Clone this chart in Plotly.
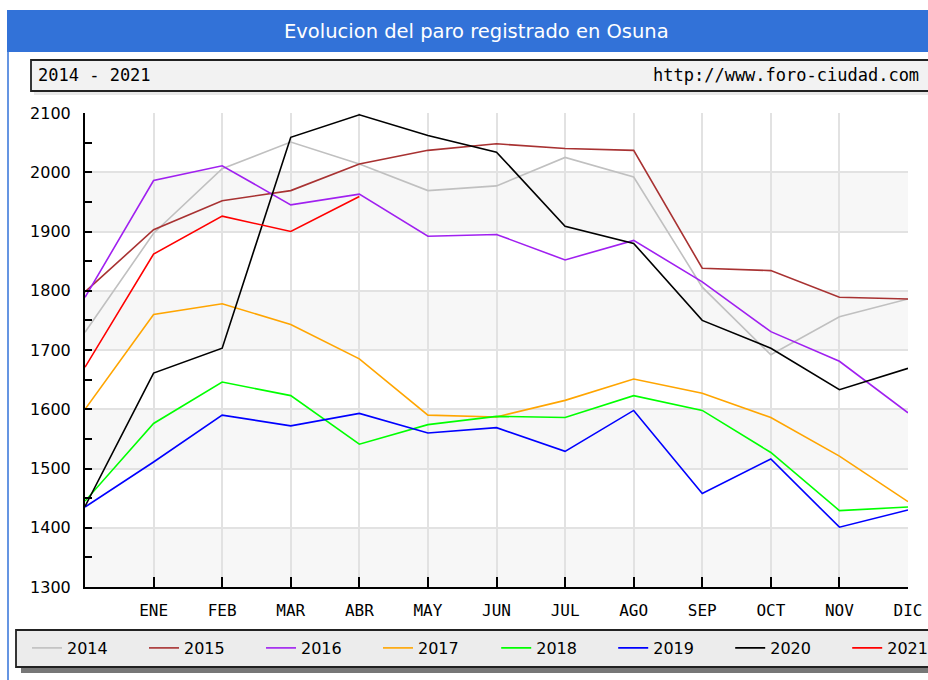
import plotly.graph_objects as go

meses = ["", "ENE", "FEB", "MAR", "ABR", "MAY", "JUN", "JUL", "AGO", "SEP", "OCT", "NOV", "DIC"]

paro_2014 = [1730, 1897, 2006, 2051, 2014, 1969, 1977, 2025, 1992, 1806, 1692, 1756, 1786]
paro_2015 = [1798, 1903, 1952, 1969, 2014, 2037, 2048, 2040, 2037, 1838, 1834, 1789, 1786]
paro_2016 = [1789, 1986, 2011, 1945, 1963, 1892, 1895, 1852, 1885, 1815, 1731, 1681, 1594]
paro_2017 = [1600, 1760, 1778, 1743, 1685, 1590, 1587, 1615, 1651, 1627, 1586, 1521, 1444]
paro_2018 = [1445, 1576, 1646, 1623, 1541, 1574, 1588, 1586, 1623, 1598, 1527, 1429, 1435]
paro_2019 = [1435, 1511, 1590, 1572, 1593, 1560, 1569, 1529, 1598, 1458, 1516, 1401, 1430]
paro_2020 = [1436, 1661, 1703, 2059, 2097, 2062, 2034, 1909, 1880, 1750, 1703, 1633, 1669]
paro_2021 = [1671, 1862, 1926, 1900, 1959]

series = [
    ("2014", paro_2014, "#c0c0c0"),
    ("2015", paro_2015, "#a83232"),
    ("2016", paro_2016, "#a020f0"),
    ("2017", paro_2017, "#ffa500"),
    ("2018", paro_2018, "#00ff00"),
    ("2019", paro_2019, "#0000ff"),
    ("2020", paro_2020, "#000000"),
    ("2021", paro_2021, "#ff0000"),
]

W, H = 928, 680
# plot area in page pixels: x 85..908, y 113..587
L, R, T, B = 85, 908, 113, 587


def px(x):
    return (x - L) / (R - L)


def py(y):
    return (B - y) / (B - T)


fig = go.Figure()

for i, (name, vals, col) in enumerate(series):
    fig.add_trace(go.Scatter(
        x=list(range(len(vals))), y=vals, mode="lines", name=name,
        line=dict(color=col, width=1.6),
        legend="legend" if i < 4 else "legend2",
    ))

shapes = []
# alternating bands
for y0 in [1300, 1500, 1700, 1900]:
    shapes.append(dict(type="rect", xref="paper", yref="y", x0=0, x1=1, y0=y0, y1=y0 + 100,
                       fillcolor="#f7f7f7", line=dict(width=0), layer="below"))
# header bar
shapes.append(dict(type="rect", xref="paper", yref="paper", x0=px(7), x1=px(935), y0=py(52), y1=py(10),
                   fillcolor="#3272d8", line=dict(width=0)))
# left page border
shapes.append(dict(type="line", xref="paper", yref="paper", x0=px(8), x1=px(8), y0=py(52), y1=py(685),
                   line=dict(color="#3272d8", width=1.5)))
# subtitle box + shadow
shapes.append(dict(type="rect", xref="paper", yref="paper", x0=px(34), x1=px(940), y0=py(95), y1=py(63),
                   fillcolor="#e8e8e8", line=dict(width=0)))
shapes.append(dict(type="rect", xref="paper", yref="paper", x0=px(31), x1=px(940), y0=py(91), y1=py(60),
                   fillcolor="#f2f2f2", line=dict(color="#222222", width=1.8)))
# legend box + shadow
shapes.append(dict(type="rect", xref="paper", yref="paper", x0=px(21), x1=px(940), y0=py(673), y1=py(636),
                   fillcolor="#777777", line=dict(width=0)))
shapes.append(dict(type="rect", xref="paper", yref="paper", x0=px(16), x1=px(940), y0=py(667), y1=py(630),
                   fillcolor="#ececec", line=dict(color="#222222", width=1.8)))

annotations = [
    dict(text="Evolucion del paro registrado en Osuna", xref="paper", yref="paper",
         x=px(476), y=py(32), xanchor="center", yanchor="middle", showarrow=False,
         font=dict(family="DejaVu Sans", size=19.5, color="white")),
    dict(text="2014 - 2021", xref="paper", yref="paper", x=px(36), y=py(75),
         xanchor="left", yanchor="middle", showarrow=False,
         font=dict(family="DejaVu Sans Mono", size=17, color="black")),
    dict(text="http://www.foro-ciudad.com", xref="paper", yref="paper", x=px(921), y=py(75),
         xanchor="right", yanchor="middle", showarrow=False,
         font=dict(family="DejaVu Sans Mono", size=17, color="black")),
]

legend_style = dict(orientation="h", xanchor="left", yanchor="top", bgcolor="rgba(0,0,0,0)",
                    borderwidth=0, font=dict(family="DejaVu Sans", size=16, color="black"),
                    entrywidth=72, entrywidthmode="pixels", itemclick=False, itemdoubleclick=False)

fig.update_layout(
    width=W, height=H,
    margin=dict(l=L, r=W - R, t=T, b=H - B, autoexpand=False),
    paper_bgcolor="white", plot_bgcolor="white",
    showlegend=True,
    legend=dict(x=px(27), y=py(631), **legend_style),
    legend2=dict(x=px(27 + 4 * 117.3), y=py(631), **legend_style),
    shapes=shapes,
    annotations=annotations,
)

fig.update_xaxes(
    range=[0, 12], tickvals=list(range(13)), ticktext=meses,
    showline=True, linecolor="black", linewidth=2,
    ticks="inside", ticklen=10, tickwidth=2, tickcolor="black",
    showgrid=True, gridcolor="#e2e2e2", gridwidth=2, zeroline=False,
    tickfont=dict(family="DejaVu Sans Mono", size=16, color="black"),
    ticklabelstandoff=8,
)
fig.update_yaxes(
    range=[1300, 2100], dtick=100, tick0=1300,
    showline=True, linecolor="black", linewidth=2,
    ticks="inside", ticklen=7, tickwidth=2, tickcolor="black",
    minor=dict(dtick=50, tick0=1300, ticks="inside", ticklen=7, tickwidth=1.5, tickcolor="black", showgrid=False),
    showgrid=True, gridcolor="#e2e2e2", gridwidth=2, zeroline=False,
    tickfont=dict(family="DejaVu Sans", size=16, color="black"),
    ticklabelstandoff=9,
)

# drop the default body margin so the figure fills the window
fig.write_html("out.html", config={"displayModeBar": False},
               post_script="document.body.style.margin='0';document.body.style.overflow='hidden';")
